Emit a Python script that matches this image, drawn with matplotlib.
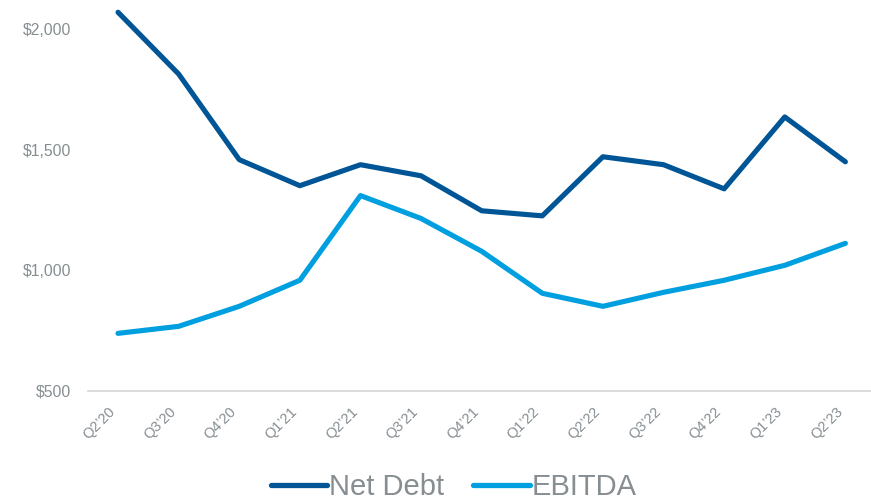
import matplotlib
matplotlib.use("Agg")
import matplotlib.pyplot as plt
from matplotlib.ticker import FuncFormatter

quarters = ["Q2\u201920", "Q3\u201920", "Q4\u201920", "Q1\u201921", "Q2\u201921", "Q3\u201921",
            "Q4\u201921", "Q1\u201922", "Q2\u201922", "Q3\u201922", "Q4\u201922", "Q1\u201923",
            "Q2\u201923"]
net_debt = [2070, 1814, 1459, 1351, 1438, 1392, 1247, 1226, 1471, 1438, 1338, 1636, 1450]
ebitda = [739, 768, 851, 959, 1310, 1215, 1079, 905, 851, 909, 959, 1021, 1112]
y_ticks = [500, 1000, 1500, 2000]

plt.rcParams["font.family"] = ["Liberation Sans", "DejaVu Sans"]

W, H = 871, 501
fig = plt.figure(figsize=(W / 100, H / 100), dpi=100)
ax = fig.add_axes([87.7 / W, (H - 391) / H, 788 / W, 386 / H])

dark = "#005596"
light = "#009fdf"
gray = "#868e92"

x = list(range(len(quarters)))
ax.plot(x, net_debt, color=dark, lw=3.7, solid_capstyle="round", solid_joinstyle="round",
        label="Net Debt")
ax.plot(x, ebitda, color=light, lw=3.7, solid_capstyle="round", solid_joinstyle="round",
        label="EBITDA")

ax.set_xlim(-0.5, len(quarters) - 0.5)
ax.set_ylim(500, 2100)
ax.set_yticks(y_ticks)
ax.yaxis.set_major_formatter(FuncFormatter(lambda v, p: f"${v:,.0f}"))
ax.set_xticks(x)
ax.set_xticklabels(quarters, rotation=45, ha="right", va="top")

for s in ["top", "right", "left"]:
    ax.spines[s].set_visible(False)
ax.spines["bottom"].set_color("#d9d9d9")
ax.spines["bottom"].set_linewidth(1.3)
ax.tick_params(axis="x", length=0, pad=10, labelsize=10.5, labelcolor=gray)
ax.tick_params(axis="y", length=0, pad=12, labelsize=11.3, labelcolor=gray)

leg = fig.legend(loc="center", bbox_to_anchor=(453.5 / W, 1 - 487 / H), ncol=2,
                 frameon=False, fontsize=21, handlelength=1.95, handletextpad=0.05,
                 columnspacing=1.0, labelcolor=gray)
for h in leg.get_lines():
    h.set_linewidth(3.8)

fig.savefig("out.png", dpi=100)
